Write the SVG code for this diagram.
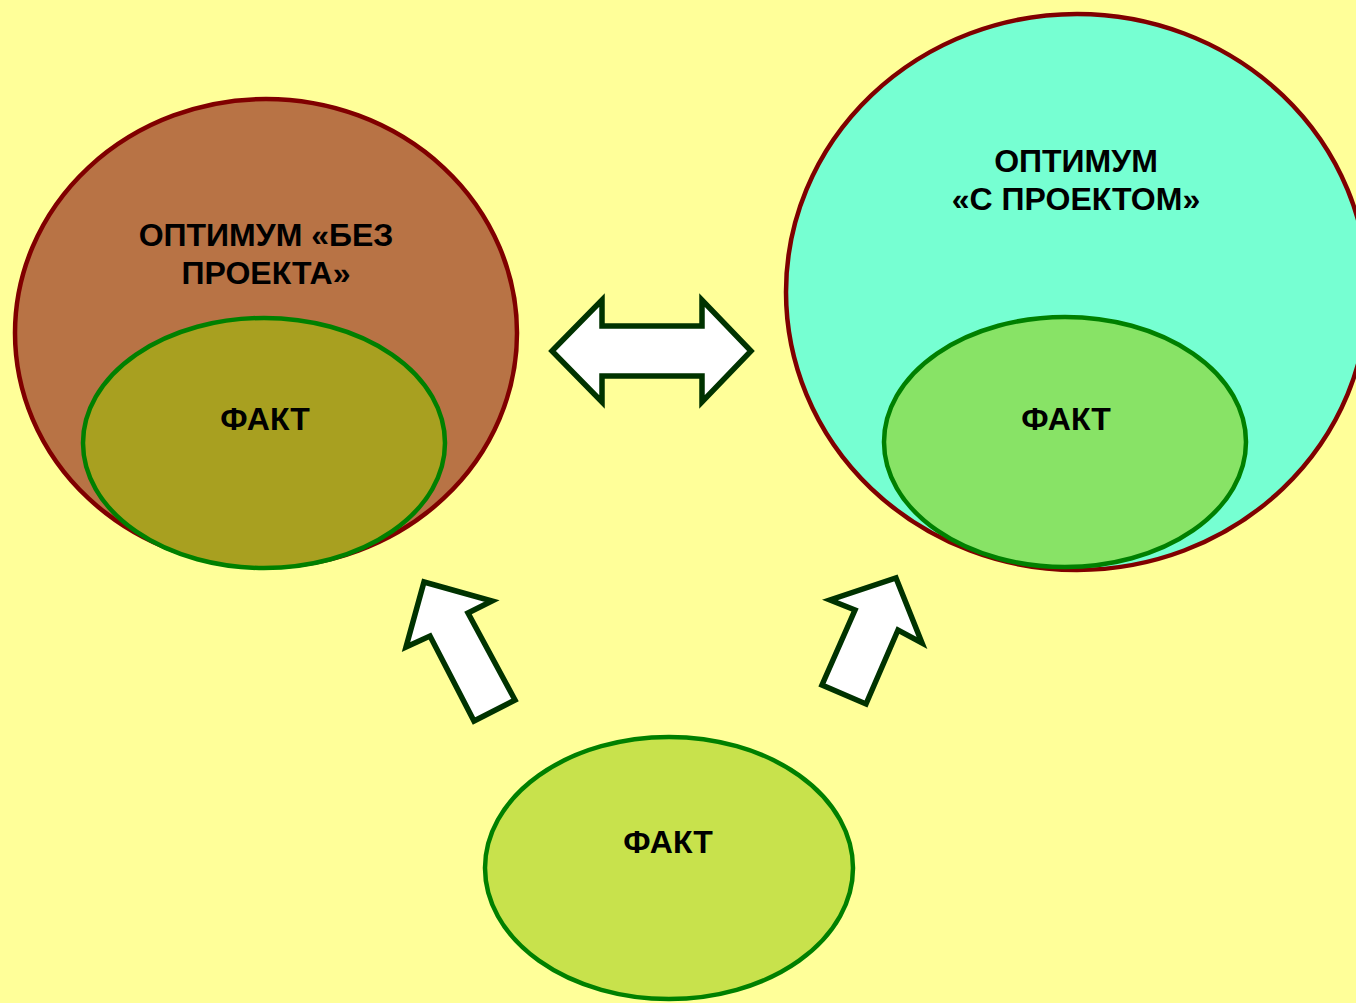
<svg xmlns="http://www.w3.org/2000/svg" width="1356" height="1003" viewBox="0 0 1356 1003">
<style>
.big{stroke:#800000;stroke-width:4.5}
.fact{stroke:#008000;stroke-width:4.5}
.arr{fill:#ffffff;stroke:#003300;stroke-width:5.5;stroke-linejoin:miter}
text{font-family:"Liberation Sans",Arial,sans-serif;font-weight:bold;font-size:32px;fill:#000;text-anchor:middle}
</style>
<rect x="0" y="0" width="1356" height="1003" fill="#ffff99"/>
<g id="opt-without">
<ellipse cx="266" cy="333" rx="251" ry="234" fill="#b87345" class="big"/>
<text x="266" y="246">ОПТИМУМ «БЕЗ</text>
<text x="266" y="284">ПРОЕКТА»</text>
</g>
<g id="fact-without">
<ellipse cx="264" cy="443" rx="181" ry="125" fill="#a8a020" class="fact"/>
<text x="265" y="430">ФАКТ</text>
</g>
<g id="opt-with">
<ellipse cx="1077" cy="292" rx="291" ry="278" fill="#76ffd2" class="big"/>
<text x="1076" y="172">ОПТИМУМ</text>
<text x="1076" y="210">«С ПРОЕКТОМ»</text>
</g>
<g id="fact-with">
<ellipse cx="1065" cy="442" rx="181" ry="125" fill="#88e366" class="fact"/>
<text x="1066" y="430">ФАКТ</text>
</g>
<g id="fact-bottom">
<ellipse cx="669" cy="868" rx="184" ry="131" fill="#c8e24c" class="fact"/>
<text x="668" y="853">ФАКТ</text>
</g>
<g id="connectors">
<polygon class="arr" points="552,351 602,300 602,326 702,326 702,300 751,351 702,402 702,376 602,376 602,402"/>
<polygon class="arr" points="424,582 492,601 468,613 515,700 474,721 430,636 406,647"/>
<polygon class="arr" points="896,578 922,643 898,630 866,704 822,685 855,610 830,600"/>
</g>
</svg>
